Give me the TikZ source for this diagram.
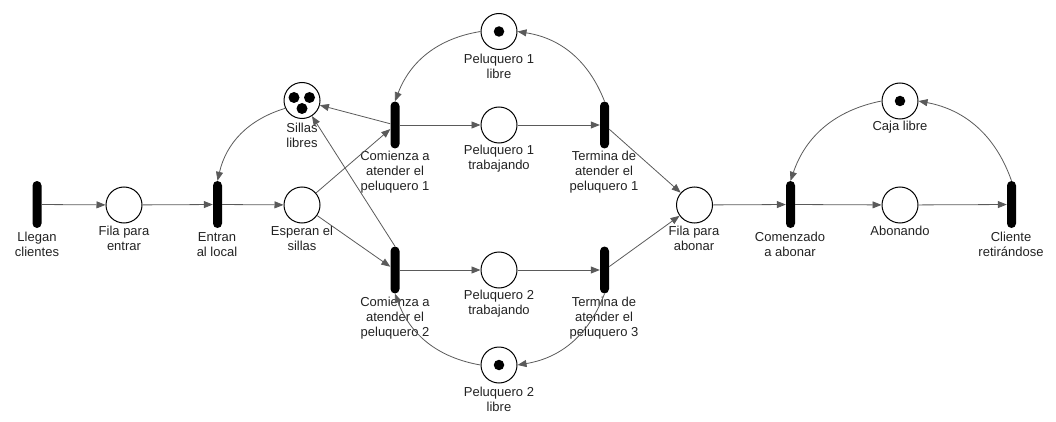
\documentclass[tikz,border=0pt]{standalone}
\usepackage{fontspec}
\setmainfont{Liberation Sans}
\usetikzlibrary{arrows.meta}
\definecolor{txt}{HTML}{222222}
\definecolor{lin}{HTML}{5A5A5A}
\begin{document}
\begin{tikzpicture}[x=1pt,y=-1pt,
  place/.style={circle, draw=black, line width=1pt, minimum size=36pt, inner sep=0pt},
  trans/.style={rectangle, fill=black, minimum width=9pt, minimum height=47pt, rounded corners=4.5pt, inner sep=0pt},
  lbl/.style={align=center, font=\fontsize{13}{15}\selectfont, text=txt, inner sep=0pt},
  arc/.style={draw=lin, line width=0.8pt, -{Triangle[length=9pt,width=7pt,fill=lin]}},
  token/.style={circle, fill=black, minimum size=10.5pt, inner sep=0pt},
  bigtoken/.style={circle, fill=black, minimum size=11pt, inner sep=0pt}]
\useasboundingbox (0,0) rectangle (1056,422);

% places
\node[place] (fe)  at (124,205) {};
\node[place] (esp) at (302,205) {};
\node[place] (sil) at (302,100.5) {};
\node[place] (p1l) at (499,31.5) {};
\node[place] (p1t) at (499,125) {};
\node[place] (p2t) at (499,270) {};
\node[place] (p2l) at (499,365) {};
\node[place] (fa)  at (694.5,205) {};
\node[place] (cl)  at (900,101) {};
\node[place] (ab)  at (900,205) {};

% tokens
\node[token] (t1) at (499,31.5) {};
\node[token] (t2) at (499,365) {};
\node[token] (t3) at (900,101) {};
\node[bigtoken] (s1) at (294,97.5) {};
\node[bigtoken] (s2) at (309.5,97.5) {};
\node[bigtoken] (s3) at (302,108.5) {};

% transitions
\node[trans] (lc) at (37,204.5) {};
\node[trans] (en) at (217.5,204.5) {};
\node[trans] (c1) at (395,125) {};
\node[trans] (f1) at (604.5,125) {};
\node[trans] (c2) at (395,270) {};
\node[trans] (f2) at (604.5,270) {};
\node[trans] (ca) at (790.5,204.5) {};
\node[trans] (cr) at (1011.5,204.5) {};

% labels
\node[lbl] (Llc) at (37,244.5) {Llegan\\clientes};
\node[lbl] (Lfe) at (124,238.5) {Fila para\\entrar};
\node[lbl] (Len) at (217,244.5) {Entran\\al local};
\node[lbl] (Lesp) at (302,238.5) {Esperan el\\sillas};
\node[lbl] (Lsil) at (302,135) {Sillas\\libres};
\node[lbl] (Lc1) at (395,172) {Comienza a\\atender el\\peluquero 1};
\node[lbl] (Lp1l) at (499,66) {Peluquero 1\\libre};
\node[lbl] (Lp1t) at (499,158.5) {Peluquero 1\\trabajando};
\node[lbl] (Lf1) at (604,172) {Termina de\\atender el\\peluquero 1};
\node[lbl] (Lc2) at (395,318) {Comienza a\\atender el\\peluquero 2};
\node[lbl] (Lp2t) at (499,304) {Peluquero 2\\trabajando};
\node[lbl] (Lf2) at (604,318) {Termina de\\atender el\\peluquero 3};
\node[lbl] (Lp2l) at (499,399) {Peluquero 2\\libre};
\node[lbl] (Lfa) at (694,238) {Fila para\\abonar};
\node[lbl] (Lca) at (790,244.5) {Comenzado\\a abonar};
\node[lbl] (Lab) at (900,231) {Abonando};
\node[lbl] (Lcl) at (900,127) {Caja libre};
\node[lbl] (Lcr) at (1011,244.5) {Cliente\\retirándose};

% straight arcs
\draw[arc] (lc) -- (fe);
\draw[arc] (fe) -- (en);
\draw[arc] (en) -- (esp);
\draw[arc] (esp) -- (c1);
\draw[arc] (esp) -- (c2);
\draw[arc] (c1) -- (sil);
\draw[arc] (c2.north) -- (sil);
\draw[arc] (c1) -- (p1t);
\draw[arc] (p1t) -- (f1);
\draw[arc] (c2) -- (p2t);
\draw[arc] (p2t) -- (f2);
\draw[arc] (f1) -- (fa);
\draw[arc] (f2) -- (fa);
\draw[arc] (fa) -- (ca);
\draw[arc] (ca) -- (ab);
\draw[arc] (ab) -- (cr);

% curved arcs
\draw[arc] (sil.205) to[bend right=30] (en.north);
\draw[arc] (p1l.west) to[bend right=30] (c1.north);
\draw[arc] (f1.north) to[bend right=30] (p1l.east);
\draw[arc] (f2.south) to[bend left=30] (p2l.east);
\draw[arc] (p2l.west) to[bend left=30] (c2.south);
\draw[arc] (cr.north) to[bend right=30] (cl.east);
\draw[arc] (cl.west) to[bend right=30] (ca.north);
\end{tikzpicture}
\end{document}
